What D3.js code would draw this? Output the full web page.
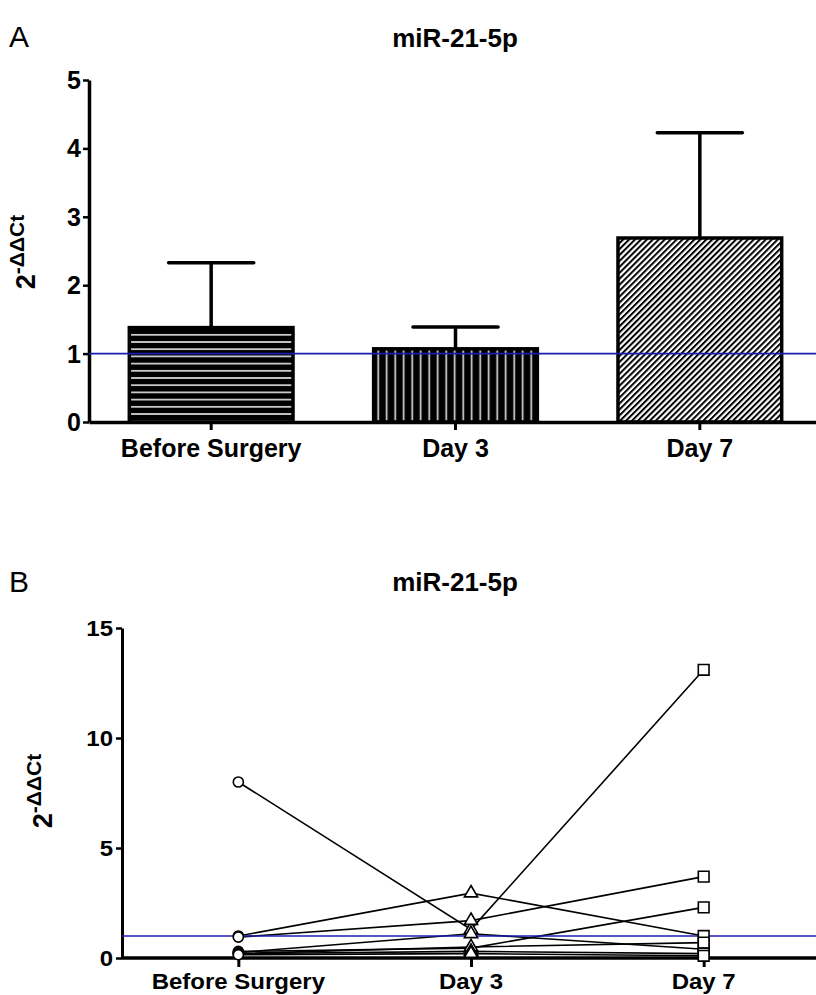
<!DOCTYPE html>
<html>
<head>
<meta charset="utf-8">
<script src="https://cdn.jsdelivr.net/npm/d3@7"></script>
<style>
  body { margin: 0; background: #fff; }
  svg { display: block; font-family: "Liberation Sans", Arial, sans-serif; }
</style>
</head>
<body>
<div id="chart"></div>
<script>
// data
var categories = ["Before Surgery", "Day 3", "Day 7"];
var meanValues = [1.38, 1.07, 2.69];
var semValues = [0.95, 0.32, 1.54];
var yTicksA = [0, 1, 2, 3, 4, 5];
var yTicksB = [0, 5, 10, 15];
var refValue = 1;

// individual patients (panel B)
var beforeValues = [8.0, 1.0, 0.95, 0.3, 0.25, 0.2, 0.2, 0.15];
var day3Values   = [1.3, 2.95, 1.7, 0.45, 1.1, 0.5, 0.3, 0.2];
var day7Values   = [13.1, 1.0, 3.7, 2.3, 0.4, 0.7, 0.2, 0.1];

var titleText = "miR-21-5p";
var blue = "#1c1cb0";

var width = 816, height = 995;

var svg = d3.select("#chart").append("svg")
    .attr("width", width)
    .attr("height", height);

var defs = svg.append("defs");

// bar fill patterns
var hs = defs.append("pattern").attr("id", "hstripe")
    .attr("patternUnits", "userSpaceOnUse").attr("width", 10).attr("height", 7.2);
hs.append("rect").attr("width", 10).attr("height", 7.2).attr("fill", "#000");
hs.append("line").attr("x1", 0).attr("x2", 10).attr("y1", 3.6).attr("y2", 3.6)
    .attr("stroke", "#e4e4e4").attr("stroke-width", 1.6);

var vs = defs.append("pattern").attr("id", "vstripe")
    .attr("patternUnits", "userSpaceOnUse").attr("width", 8.5).attr("height", 10);
vs.append("rect").attr("width", 8.5).attr("height", 10).attr("fill", "#000");
vs.append("line").attr("x1", 4.2).attr("x2", 4.2).attr("y1", 0).attr("y2", 10)
    .attr("stroke", "#e4e4e4").attr("stroke-width", 1.6);

var dg = defs.append("pattern").attr("id", "diag")
    .attr("patternUnits", "userSpaceOnUse").attr("width", 4.2).attr("height", 10)
    .attr("patternTransform", "rotate(45)");
dg.append("rect").attr("width", 4.2).attr("height", 10).attr("fill", "#fff");
dg.append("line").attr("x1", 1).attr("x2", 1).attr("y1", 0).attr("y2", 10)
    .attr("stroke", "#000").attr("stroke-width", 2);

var fills = ["url(#hstripe)", "url(#vstripe)", "url(#diag)"];

// helper for text, optionally squeezed vertically
function label(g, x, y, str, size, anchor, weight, sy) {
  return g.append("text")
    .attr("transform", "translate(" + x + "," + y + ") scale(1," + (sy || 1) + ")")
    .attr("text-anchor", anchor || "middle")
    .attr("font-size", size)
    .attr("font-weight", weight || "bold")
    .text(str);
}

function yLabel(g, x, y) {
  var t = g.append("text")
    .attr("transform", "translate(" + x + "," + y + ") rotate(-90)")
    .attr("text-anchor", "middle")
    .attr("font-weight", "bold");
  t.append("tspan").attr("font-size", 27).text("2");
  t.append("tspan").attr("font-size", 21).attr("dy", -11).text("-ΔΔCt");
}

// ---------------- Panel A ----------------
var gA = svg.append("g");

var xA = d3.scaleBand().domain(categories)
    .range([89, 822]).paddingInner(0.33).paddingOuter(0.165);
var yA = d3.scaleLinear().domain([0, 5]).range([422, 80]);

label(gA, 9, 47, "A", 30, "start", "normal");
label(gA, 455, 47, titleText, 26);
yLabel(gA, 35, 252);

gA.selectAll("rect.bar")
  .data(categories)
  .enter().append("rect")
    .attr("class", "bar")
    .attr("x", function(d) { return xA(d); })
    .attr("width", xA.bandwidth())
    .attr("y", function(d, i) { return yA(meanValues[i]); })
    .attr("height", function(d, i) { return yA(0) - yA(meanValues[i]); })
    .attr("fill", function(d, i) { return fills[i]; })
    .attr("stroke", "#000")
    .attr("stroke-width", 3.5);

var capHalf = xA.bandwidth() * 0.26;
var err = gA.selectAll("g.err")
  .data(categories)
  .enter().append("g").attr("class", "err")
    .attr("stroke", "#000").attr("stroke-width", 3.5);
err.append("line")
    .attr("x1", function(d) { return xA(d) + xA.bandwidth() / 2; })
    .attr("x2", function(d) { return xA(d) + xA.bandwidth() / 2; })
    .attr("y1", function(d, i) { return yA(meanValues[i]); })
    .attr("y2", function(d, i) { return yA(meanValues[i] + semValues[i]); });
err.append("line")
    .attr("x1", function(d) { return xA(d) + xA.bandwidth() / 2 - capHalf; })
    .attr("x2", function(d) { return xA(d) + xA.bandwidth() / 2 + capHalf; })
    .attr("y1", function(d, i) { return yA(meanValues[i] + semValues[i]); })
    .attr("y2", function(d, i) { return yA(meanValues[i] + semValues[i]); })
    .attr("stroke-linecap", "round");

var axA = gA.append("g")
    .attr("transform", "translate(0," + yA(0) + ")")
    .call(d3.axisBottom(xA).tickSize(8).tickSizeOuter(0));
axA.select(".domain").attr("stroke-width", 3.5);
axA.selectAll(".tick line").attr("stroke-width", 3);
axA.selectAll(".tick text").remove();
categories.forEach(function(c) {
  label(gA, xA(c) + xA.bandwidth() / 2, 457, c, 25);
});

var ayA = gA.append("g")
    .attr("transform", "translate(89,0)")
    .call(d3.axisLeft(yA).tickValues(yTicksA).tickSize(6).tickSizeOuter(0));
ayA.select(".domain").attr("stroke-width", 3.5);
ayA.selectAll(".tick line").attr("stroke-width", 2.5);
ayA.selectAll(".tick text").remove();
yTicksA.forEach(function(v) {
  label(gA, 81, yA(v) + 9, v, 25, "end");
});

gA.append("line")
    .attr("x1", 89).attr("x2", width)
    .attr("y1", yA(refValue)).attr("y2", yA(refValue))
    .attr("stroke", blue).attr("stroke-width", 1.6);

// ---------------- Panel B ----------------
var gB = svg.append("g");
var sy = 0.94;

var xB = d3.scalePoint().domain(categories).range([122, 820]).padding(0.5);
var yB = d3.scaleLinear().domain([0, 15]).range([958, 628]);

label(gB, 9, 592, "B", 30, "start", "normal");
label(gB, 455, 591, titleText, 26);
yLabel(gB, 52, 791);

var ayB = gB.append("g")
    .attr("transform", "translate(122,0)")
    .call(d3.axisLeft(yB).tickValues(yTicksB).tickSize(6).tickSizeOuter(0));
ayB.select(".domain").attr("stroke-width", 3);
ayB.selectAll(".tick line").attr("stroke-width", 2.5);
ayB.selectAll(".tick text").remove();
yTicksB.forEach(function(v) {
  label(gB, 113, yB(v) + 8, v, 24, "end", "bold", sy);
});

var subjects = beforeValues.map(function(v, i) {
  return [v, day3Values[i], day7Values[i]];
});

var line = d3.line()
    .x(function(d, i) { return xB(categories[i]); })
    .y(function(d) { return yB(d); });

gB.selectAll("path.subj")
  .data(subjects)
  .enter().append("path")
    .attr("class", "subj")
    .attr("d", line)
    .attr("fill", "none")
    .attr("stroke", "#000")
    .attr("stroke-width", 1.6);

var axB = gB.append("g")
    .attr("transform", "translate(0," + yB(0) + ")")
    .call(d3.axisBottom(xB).tickSize(9).tickSizeOuter(0));
axB.select(".domain").attr("stroke-width", 3.5).attr("d", "M122,0H" + width);
axB.selectAll(".tick line").attr("stroke-width", 3);
axB.selectAll(".tick text").remove();
categories.forEach(function(c) {
  label(gB, xB(c), 989, c, 24, "middle", "bold", sy);
});

gB.append("line")
    .attr("x1", 122).attr("x2", width)
    .attr("y1", yB(refValue)).attr("y2", yB(refValue))
    .attr("stroke", blue).attr("stroke-width", 1.6);

var shapes = [d3.symbolCircle, d3.symbolTriangle, d3.symbolSquare];
var sizes = [80, 75, 115];
[beforeValues, day3Values, day7Values].forEach(function(vals, k) {
  gB.selectAll("path.m" + k)
    .data(vals)
    .enter().append("path")
      .attr("class", "m" + k)
      .attr("d", d3.symbol().type(shapes[k]).size(sizes[k]))
      .attr("transform", function(d) {
        return "translate(" + xB(categories[k]) + "," + yB(d) + ")";
      })
      .attr("fill", "#fff")
      .attr("stroke", "#000")
      .attr("stroke-width", 1.6);
});
</script>
</body>
</html>
